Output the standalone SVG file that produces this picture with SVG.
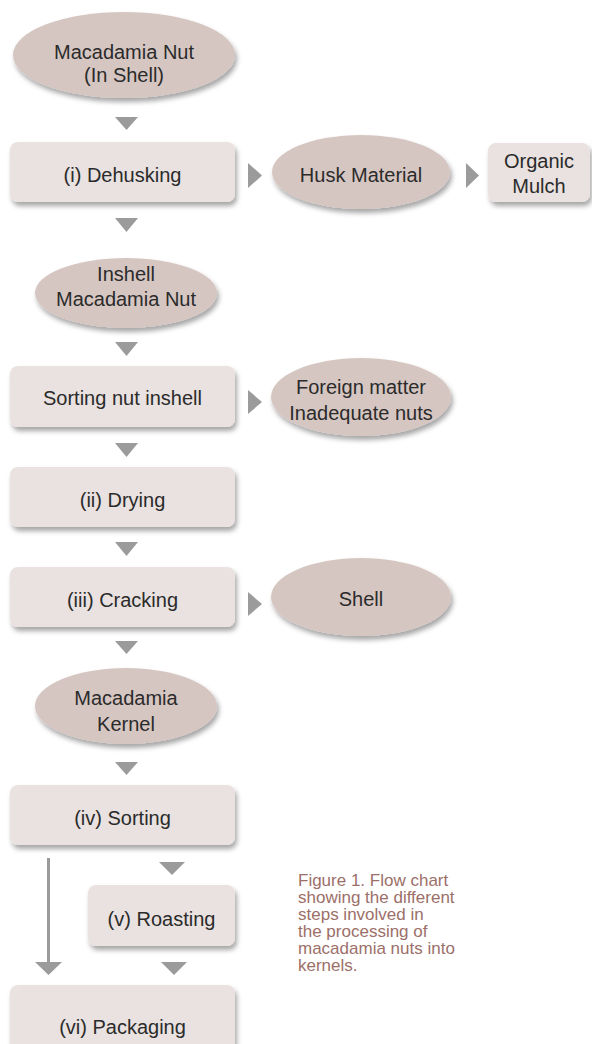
<svg xmlns="http://www.w3.org/2000/svg" width="592" height="1044" viewBox="0 0 592 1044">
<defs>
<filter id="sh" x="-20%" y="-20%" width="140%" height="150%">
<feDropShadow dx="2" dy="4" stdDeviation="2.5" flood-color="#000" flood-opacity="0.35"/>
</filter>
</defs>
<style>
.box{fill:#e9e2e0;filter:url(#sh)}
.ell{fill:#d6c6c2;filter:url(#sh)}
.tri{fill:#9b9b9b}
.t{font-family:"Liberation Sans",Arial,sans-serif;font-size:20px;fill:#2b2b2b;text-anchor:middle}
.cap{font-family:"Liberation Sans",Arial,sans-serif;font-size:17px;fill:#9c6f69}
</style>
<rect width="592" height="1044" fill="#fff"/>
<g id="connectors">
<polygon class="tri" points="115,117 138,117 126.5,130"/>
<polygon class="tri" points="248,163 248,188 262,175.5"/>
<polygon class="tri" points="466,163 466,188 479,175.5"/>
<polygon class="tri" points="115,218 138,218 126.5,232"/>
<polygon class="tri" points="115,342 138,342 126.5,356"/>
<polygon class="tri" points="248,390 248,414 262,402"/>
<polygon class="tri" points="115,443 138,443 126.5,457"/>
<polygon class="tri" points="115,542 138,542 126.5,556"/>
<polygon class="tri" points="248,592 248,616 262,604"/>
<polygon class="tri" points="115,641 138,641 126.5,654"/>
<polygon class="tri" points="115,762 138,762 126.5,775"/>
<line x1="48.5" y1="858" x2="48.5" y2="963" stroke="#9b9b9b" stroke-width="3"/>
<polygon class="tri" points="35,962 62,962 48.5,975"/>
<polygon class="tri" points="159,862 185,862 172,875"/>
<polygon class="tri" points="161,962 187,962 174,975"/>
</g>
<g id="n-inshell-top">
<ellipse class="ell" cx="124" cy="55" rx="111" ry="43"/>
<text class="t" x="124" y="59">Macadamia Nut</text>
<text class="t" x="124" y="82">(In Shell)</text>
</g>
<g id="n-dehusking">
<rect class="box" x="10" y="142" width="225" height="60" rx="8"/>
<text class="t" x="122.5" y="182">(i) Dehusking</text>
</g>
<g id="n-husk">
<ellipse class="ell" cx="361" cy="172" rx="89" ry="37"/>
<text class="t" x="361" y="182">Husk Material</text>
</g>
<g id="n-mulch">
<rect class="box" x="488" y="143" width="102" height="59" rx="8"/>
<text class="t" x="539" y="168">Organic</text>
<text class="t" x="539" y="193">Mulch</text>
</g>
<g id="n-inshell">
<ellipse class="ell" cx="126" cy="293" rx="91" ry="35"/>
<text class="t" x="126" y="281">Inshell</text>
<text class="t" x="126" y="306">Macadamia Nut</text>
</g>
<g id="n-sorting-inshell">
<rect class="box" x="10" y="366" width="225" height="61" rx="8"/>
<text class="t" x="122.5" y="405">Sorting nut inshell</text>
</g>
<g id="n-foreign">
<ellipse class="ell" cx="361" cy="397" rx="90" ry="39"/>
<text class="t" x="361" y="394">Foreign matter</text>
<text class="t" x="361" y="420">Inadequate nuts</text>
</g>
<g id="n-drying">
<rect class="box" x="10" y="467" width="225" height="60" rx="8"/>
<text class="t" x="122.5" y="507">(ii) Drying</text>
</g>
<g id="n-cracking">
<rect class="box" x="10" y="567" width="225" height="60" rx="8"/>
<text class="t" x="122.5" y="607">(iii) Cracking</text>
</g>
<g id="n-shell">
<ellipse class="ell" cx="361" cy="597" rx="90" ry="39"/>
<text class="t" x="361" y="606">Shell</text>
</g>
<g id="n-kernel">
<ellipse class="ell" cx="126" cy="706" rx="91" ry="38"/>
<text class="t" x="126" y="705">Macadamia</text>
<text class="t" x="126" y="731">Kernel</text>
</g>
<g id="n-sorting">
<rect class="box" x="10" y="785" width="225" height="60" rx="8"/>
<text class="t" x="122.5" y="825">(iv) Sorting</text>
</g>
<g id="n-roasting">
<rect class="box" x="88" y="885" width="147" height="61" rx="8"/>
<text class="t" x="161.5" y="926">(v) Roasting</text>
</g>
<g id="n-packaging">
<rect class="box" x="10" y="985" width="225" height="80" rx="8"/>
<text class="t" x="122.5" y="1034">(vi) Packaging</text>
</g>
<g id="caption">
<text class="cap" x="298" y="886">Figure 1. Flow chart</text>
<text class="cap" x="298" y="903">showing the different</text>
<text class="cap" x="298" y="920">steps involved in</text>
<text class="cap" x="298" y="937">the processing of</text>
<text class="cap" x="298" y="954">macadamia nuts into</text>
<text class="cap" x="298" y="971">kernels.</text>
</g>
</svg>
